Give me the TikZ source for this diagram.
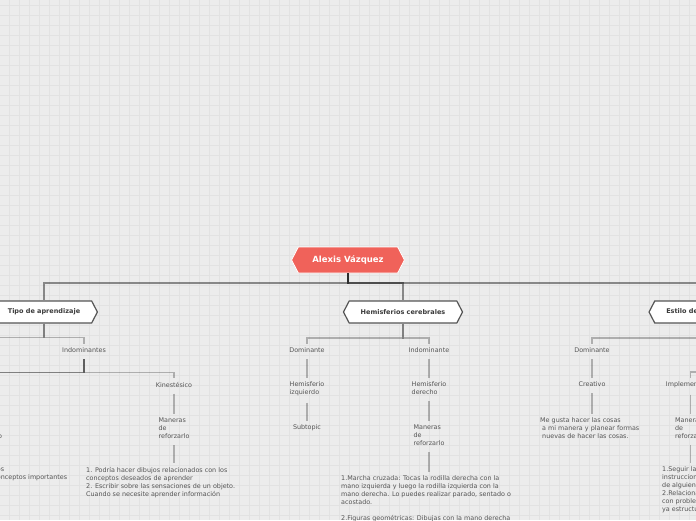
\documentclass[tikz,border=0pt]{standalone}
\usepackage{fontspec}
\setmainfont{DejaVu Sans}
\usetikzlibrary{shapes.symbols}
\definecolor{bgc}{RGB}{236,236,236}
\definecolor{gridc}{RGB}{226,226,226}
\definecolor{rootc}{RGB}{240,98,90}
\definecolor{txtc}{RGB}{85,85,85}
\definecolor{hexborder}{RGB}{85,85,85}
\definecolor{hextxt}{RGB}{58,58,58}
\begin{document}
\begin{tikzpicture}[x=1pt,y=-1pt,
  lbl/.style={font=\fontsize{6.4}{8}\selectfont, text=txtc, inner sep=0pt, align=left, anchor=north},
  desc/.style={font=\fontsize{6.4}{8}\selectfont, text=txtc, inner sep=0pt, align=left, anchor=north west},
  hexa/.style={shape=signal, signal to=east and west, signal pointer angle=125, draw=hexborder, line width=1.2pt, fill=white, minimum height=22pt, inner ysep=0pt, inner xsep=11.5pt, font=\fontsize{6.5}{8}\selectfont\bfseries, text=hextxt},
  roothex/.style={hexa, fill=rootc, draw=white, line width=0.8pt, minimum height=26pt, inner xsep=14pt, font=\fontsize{8.5}{10}\selectfont\bfseries, text=white},
  c0/.style={draw=black, draw opacity=0.42, line width=2pt},
  c1/.style={draw=black, draw opacity=0.26, line width=1.5pt, shorten >=4pt},
  c2/.style={c1, shorten <=6pt}
]
\useasboundingbox (0,0) rectangle (696,520);
\clip (0,0) rectangle (696,520);
\fill[bgc] (0,0) rectangle (696,520);
\foreach \i in {0,...,68} {\draw[gridc, line width=0.8pt] ({9.5+10*\i},0) -- ({9.5+10*\i},520);}
\foreach \j in {0,...,51} {\draw[gridc, line width=0.8pt] (0,{5+10*\j}) -- (696,{5+10*\j});}

% main topics
\node[roothex] (root) at (348,260) {Alexis Vázquez};
\node[hexa] (tipo) at (44,312) {Tipo de aprendizaje};
\node[hexa] (hemis) at (403,312) {Hemisferios cerebrales};
\node[hexa] (estilo) at (707,312) {Estilo de pensamiento};

% Tipo de aprendizaje branch
\coordinate (tdom) at (-60,348);
\node[lbl] (tind) at (84,347.9) {Indominantes};
\coordinate (tvis) at (-190,382);
\coordinate (taud) at (-13.5,382);
\node[lbl] (kin) at (174,381.9) {Kinestésico};
\node[lbl] (kman) at (174,417.9) {Maneras\\de\\reforzarlo};
\node[desc] (kdesc) at (86,466.9) {1. Podría hacer dibujos relacionados con los\\conceptos deseados de aprender\\2. Escribir sobre las sensaciones de un objeto.\\Cuando se necesite aprender información};
\node[lbl] (aman) at (-13.5,417.9) {Maneras\\de\\reforzarlo};
\node[desc] (adesc) at (-89,466.9) {1. Escuchar audios grabados\\2. Repetir en voz alta los conceptos importantes};

% Hemisferios branch
\node[lbl] (hdom) at (307,347.9) {Dominante};
\node[lbl] (hind) at (429,347.9) {Indominante};
\node[lbl] (hizq) at (307,381.9) {Hemisferio\\izquierdo};
\node[lbl] (hder) at (429,381.9) {Hemisferio\\derecho};
\node[lbl] (hsub) at (307,424.9) {Subtopic};
\node[lbl] (hman) at (429,424.9) {Maneras\\de\\reforzarlo};
\node[desc] (hdesc) at (341,475.9) {1.Marcha cruzada: Tocas la rodilla derecha con la\\mano izquierda y luego la rodilla izquierda con la\\mano derecha. Lo puedes realizar parado, sentado o\\acostado.\\[8pt]2.Figuras geométricas: Dibujas con la mano derecha};

% Estilo branch
\node[lbl] (edom) at (592,347.9) {Dominante};
\coordinate (eind) at (752,356);
\coordinate (eoth) at (812,382);
\node[lbl] (ecre) at (592,381.9) {Creativo};
\node[desc] (edesc) at (540,417.9) {Me gusta hacer las cosas\\\hspace*{2pt}a mi manera y planear formas\\\hspace*{2pt}nuevas de hacer las cosas.};
\node[lbl] (impl) at (690.5,381.9) {Implementador};
\node[lbl] (iman) at (690.5,417.9) {Maneras\\de\\reforzarlo};
\node[desc] (idesc) at (662,466.9) {1.Seguir las\\instrucciones\\de alguien\\2.Relacionar\\con problemas\\ya estructurados};

% connectors level 0
\draw[c0] (root.south) -- ++(0,10) -| (tipo.north);
\draw[c0] (root.south) -- ++(0,10) -| (hemis.north);
\draw[c0] (root.south) -- ++(0,10) -| (estilo.north);

% level 1
\draw[c1] (tipo.south) -- ++(0,14) -| (tdom);
\draw[c1] (tipo.south) -- ++(0,14) -| (tind.north);
\draw[c1] (hemis.south) -- ++(0,14.5) -| (hdom.north);
\draw[c1] (hemis.south) -- ++(0,14.5) -| (hind.north);
\draw[c1] (estilo.south) -- ++(0,14.5) -| (edom.north);
\draw[c1] (estilo.south) -- ++(0,14.5) -| (eind);

% level 2 and below
\draw[c2] (tind.south) -- ++(0,19) -| (tvis);
\draw[c2] (tind.south) -- ++(0,19) -| (taud);
\draw[c2] (tind.south) -- ++(0,19) -| (kin.north);
\draw[c1] (taud) -- (aman.north);
\draw[c2] (kin.south) -- (kman.north);
\draw[c2] (kman.south) -- (kman.south |- kdesc.north);
\draw[c2] (aman.south) -- (aman.south |- adesc.north);
\draw[c2] (hdom.south) -- (hizq.north);
\draw[c2] (hizq.south) -- (hsub.north);
\draw[c2] (hind.south) -- (hder.north);
\draw[c2] (hder.south) -- (hman.north);
\draw[c2] (hman.south) -- (hman.south |- hdesc.north);
\draw[c2] (edom.south) -- (ecre.north);
\draw[c2] (ecre.south) -- (ecre.south |- edesc.north);
\draw[c1] (eind) -- ++(0,16) -| (impl.north);
\draw[c1] (eind) -- ++(0,16) -| (eoth);
\draw[c2] (impl.south) -- (iman.north);
\draw[c2] (iman.south) -- (iman.south |- idesc.north);
\end{tikzpicture}
\end{document}
